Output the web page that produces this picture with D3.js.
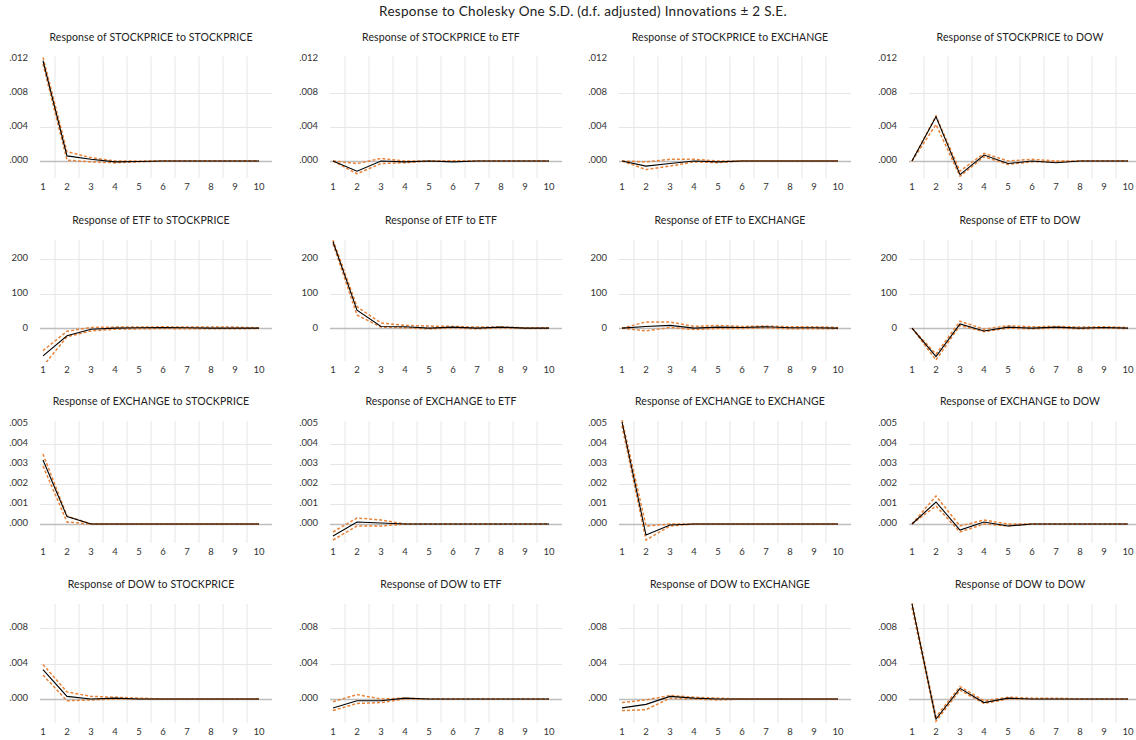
<!DOCTYPE html>
<html>
<head>
<meta charset="utf-8">
<script src="https://cdn.jsdelivr.net/npm/d3@7"></script>
<style>
  body { margin: 0; background: #fff; }
  text { font-family: Lato, "Open Sans", sans-serif; fill: #333; }
</style>
</head>
<body>
<script>
var periods = [1, 2, 3, 4, 5, 6, 7, 8, 9, 10];
var variables = ['STOCKPRICE', 'ETF', 'EXCHANGE', 'DOW'];

// each block: response of one variable to STOCKPRICE, ETF, EXCHANGE, DOW
var respStock = [
  [0.0118, 0.0006, 0.0002, -0.0001, -0.00005, 0, 0, 0, 0, 0],
  [0, -0.0012, 0.0000, -0.0001, 0, -0.0001, 0, 0, 0, 0],
  [0, -0.0006, -0.0003, 0.0000, -0.0001, 0, 0, 0, 0, 0],
  [0, 0.0052, -0.0016, 0.0007, -0.0003, 0.0000, -0.0002, 0, 0, 0]
];
var upStock = [
  [0.0122, 0.0011, 0.0004, 0.0000, 0.0000, 0, 0, 0, 0, 0],
  [0, -0.0003, 0.0003, 0.0000, 0.0000, 0, 0, 0, 0, 0],
  [0, -0.0001, 0.0002, 0.0002, 0.0000, 0, 0, 0, 0, 0],
  [0, 0.0053, -0.0012, 0.0009, 0.0000, 0.0002, 0.0000, 0, 0, 0]
];
var loStock = [
  [0.0114, 0.0001, -0.0001, -0.0002, -0.0001, 0, 0, 0, 0, 0],
  [0, -0.0015, -0.0003, -0.0002, 0.0000, 0, 0, 0, 0, 0],
  [0, -0.0010, -0.0006, -0.0001, -0.0002, 0, 0, 0, 0, 0],
  [0, 0.0043, -0.0018, 0.0005, -0.0004, -0.0001, -0.0001, 0, 0, 0]
];

var respEtf = [
  [-80, -22, -3, 0, 1, 2, 1, 0, 0, 0],
  [250, 52, 5, 4, 0, 3, 0, 3, 0, 0],
  [0, 5, 8, 0, 3, 2, 4, 1, 1, 0],
  [0, -82, 12, -8, 3, 0, 3, 0, 2, 0]
];
var upEtf = [
  [-65, -9, 2, 3, 3, 4, 3, 3, 3, 1],
  [255, 62, 15, 8, 6, 5, 3, 4, 1, 1],
  [0, 18, 18, 5, 8, 5, 6, 4, 4, 2],
  [0, -75, 20, -3, 7, 4, 5, 3, 4, 2]
];
var loEtf = [
  [-110, -25, -8, -3, -2, -1, -2, -2, -2, -1],
  [244, 38, 3, 1, -2, 1, -2, 1, -1, -1],
  [0, -8, 2, -4, -1, -1, 1, -2, -2, -2],
  [0, -92, 8, -10, 0, -2, 1, -2, 0, -1]
];

var respExch = [
  [0.0032, 0.00037, 0.0000, 0, 0, 0, 0, 0, 0, 0],
  [-0.0006, 0.0001, 0.00005, 0, 0, 0, 0, 0, 0, 0],
  [0.0051, -0.00055, -0.00005, 0, 0, 0, 0, 0, 0, 0],
  [0, 0.0011, -0.0003, 0.0001, -0.0001, 0, 0, 0, 0, 0]
];
var upExch = [
  [0.0035, 0.0004, 0.0000, 0, 0, 0, 0, 0, 0, 0],
  [-0.0004, 0.0003, 0.0002, 0.0000, 0, 0, 0, 0, 0, 0],
  [0.0052, -0.0001, 0.0000, 0, 0, 0, 0, 0, 0, 0],
  [0, 0.0014, -0.0001, 0.0002, 0.0000, 0, 0, 0, 0, 0]
];
var loExch = [
  [0.0029, 0.0001, 0.0000, 0, 0, 0, 0, 0, 0, 0],
  [-0.0008, -0.0001, -0.0001, 0.0000, 0, 0, 0, 0, 0, 0],
  [0.0049, -0.0008, -0.0001, 0, 0, 0, 0, 0, 0, 0],
  [0, 0.0009, -0.0004, 0.0000, -0.0001, 0, 0, 0, 0, 0]
];

var respDow = [
  [0.0033, 0.0003, 0.0000, 0.0001, 0, 0, 0, 0, 0, 0],
  [-0.0010, -0.0002, -0.0002, 0.0001, 0, 0, 0, 0, 0, 0],
  [-0.0010, -0.0006, 0.0003, 0.0001, 0, 0, 0, 0, 0, 0],
  [0.0107, -0.00225, 0.0012, -0.0004, 0.0001, 0.0000, 0, 0, 0, 0]
];
var upDow = [
  [0.0039, 0.0008, 0.0003, 0.0002, 0.0001, 0, 0, 0, 0, 0],
  [-0.0003, 0.0005, 0.0000, 0.0001, 0, 0, 0, 0, 0, 0],
  [-0.0004, -0.0001, 0.0004, 0.0002, 0.0001, 0, 0, 0, 0, 0],
  [0.0109, -0.0020, 0.0014, -0.0002, 0.0002, 0.0001, 0.0001, 0, 0, 0]
];
var loDow = [
  [0.0027, -0.0002, -0.0001, 0.0000, 0, 0, 0, 0, 0, 0],
  [-0.0013, -0.0005, -0.0004, 0.0000, 0, 0, 0, 0, 0, 0],
  [-0.0013, -0.0012, 0.0001, 0.0000, -0.0001, 0, 0, 0, 0, 0],
  [0.0103, -0.0025, 0.0010, -0.0005, 0.0000, 0, 0, 0, 0, 0]
];

var yTicks = [
  [0, 0.004, 0.008, 0.012],
  [0, 100, 200],
  [0, 0.001, 0.002, 0.003, 0.004, 0.005],
  [0, 0.004, 0.008]
];
var yDomains = [[-0.002, 0.0123], [-95, 255], [-0.00095, 0.00515], [-0.0027, 0.0107]];

var resp = [respStock, respEtf, respExch, respDow];
var upper = [upStock, upEtf, upExch, upDow];
var lower = [loStock, loEtf, loExch, loDow];

// layout
var colLeft = [31, 321, 610, 900];
var rowTop = [56.5, 240, 421, 604];
var rowBottom = [178, 361, 543, 723];
var plotW = 240;

var svg = d3.select('body').append('svg').attr('width', 1136).attr('height', 740);

svg.append('text')
  .attr('x', 583).attr('y', 13)
  .attr('text-anchor', 'middle').attr('dominant-baseline', 'middle')
  .style('font-size', '13.5px').style('letter-spacing', '0.3px').style('fill', '#222')
  .text('Response to Cholesky One S.D. (d.f. adjusted) Innovations \u00b1 2 S.E.');

function fmt(row, v) {
  if (row === 1) return d3.format('d')(v);
  return d3.format('.3f')(v).replace(/^0/, '');
}

for (var r = 0; r < 4; r++) {
  for (var c = 0; c < 4; c++) {
    var L = colLeft[c];
    var x = d3.scalePoint().domain(periods).range([L + 12, L + plotW - 12]);
    var y = d3.scaleLinear().domain(yDomains[r]).range([rowBottom[r], rowTop[r]]);
    var g = svg.append('g');
    var id = 'clip' + r + c;

    g.append('clipPath').attr('id', id).append('rect')
      .attr('x', L).attr('y', rowTop[r] - 1)
      .attr('width', plotW + 2).attr('height', rowBottom[r] - rowTop[r] + 2);

    g.append('text')
      .attr('x', L + plotW / 2).attr('y', rowTop[r] - 19 + (r === 0 ? 0.5 : 0))
      .attr('text-anchor', 'middle').attr('dominant-baseline', 'middle')
      .style('font-size', '10.5px').style('letter-spacing', '0.1px').style('fill', '#222')
      .text('Response of ' + variables[r] + ' to ' + variables[c]);

    // vertical grid between periods
    g.selectAll('.vg').data(periods.slice(0, 9)).enter().append('line')
      .attr('x1', function (d) { return x(d) + 12; })
      .attr('x2', function (d) { return x(d) + 12; })
      .attr('y1', rowTop[r]).attr('y2', rowBottom[r])
      .attr('stroke', '#e6e6e6').attr('stroke-width', 1);

    // horizontal grid
    g.selectAll('.hg').data(yTicks[r].filter(function (t) { return y(t) > rowTop[r] + 4; }))
      .enter().append('line')
      .attr('x1', x(1) - 3).attr('x2', L + plotW + 1)
      .attr('y1', function (d) { return Math.round(y(d)) + 0.5; })
      .attr('y2', function (d) { return Math.round(y(d)) + 0.5; })
      .attr('stroke', function (d) { return d === 0 ? '#bdbdbd' : '#e6e6e6'; })
      .attr('stroke-width', function (d) { return d === 0 ? 1.3 : 1; });

    g.selectAll('.yl').data(yTicks[r]).enter().append('text')
      .attr('x', L - 3).attr('y', function (d) { return y(d); })
      .attr('text-anchor', 'end').attr('dominant-baseline', 'middle')
      .style('font-size', '9.5px')
      .text(function (d) { return fmt(r, d); });

    g.selectAll('.xl').data(periods).enter().append('text')
      .attr('x', function (d) { return x(d); }).attr('y', rowBottom[r] + 10)
      .attr('text-anchor', 'middle').attr('dominant-baseline', 'middle')
      .style('font-size', '9.5px')
      .text(function (d) { return d; });

    var line = d3.line()
      .x(function (d, i) { return x(periods[i]); })
      .y(function (d) { return y(d); });

    var marks = g.append('g').attr('clip-path', 'url(#' + id + ')');
    [upper[r][c], lower[r][c]].forEach(function (band) {
      marks.append('path').attr('d', line(band))
        .attr('fill', 'none').attr('stroke', '#e8833a')
        .attr('stroke-width', 1.5).attr('stroke-dasharray', '3,2');
    });
    marks.append('path').attr('d', line(resp[r][c]))
      .attr('fill', 'none').attr('stroke', '#000').attr('stroke-width', 1.1);
  }
}
</script>
</body>
</html>
